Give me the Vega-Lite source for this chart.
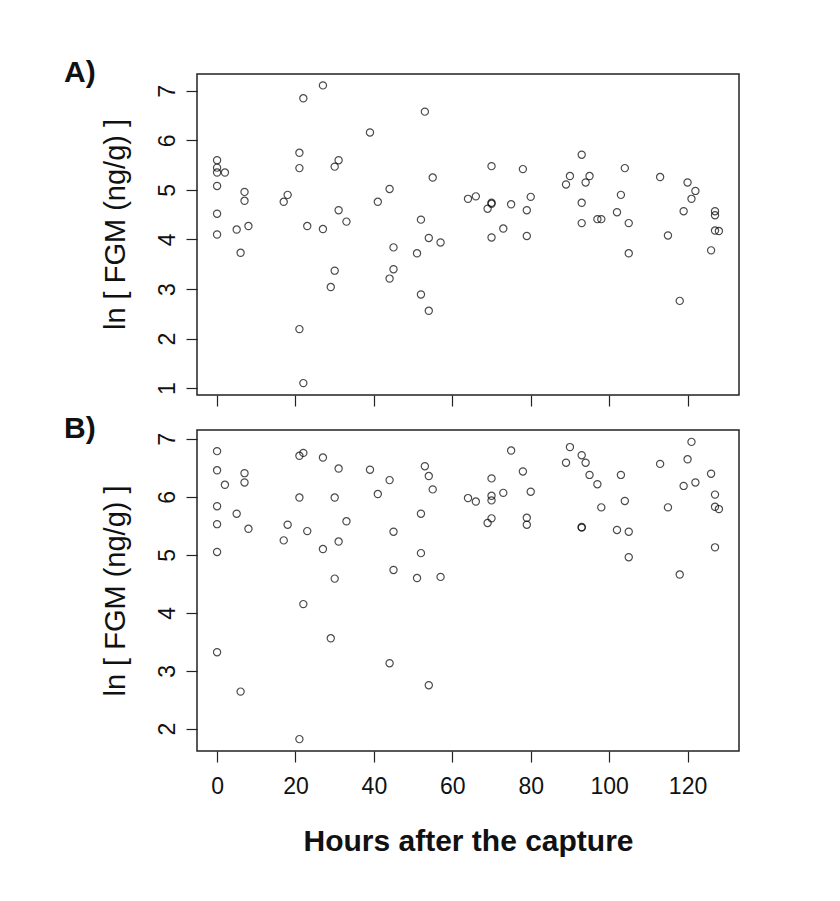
{
  "$schema": "https://vega.github.io/schema/vega-lite/v6.json",
  "background": "white",
  "padding": {"left": 63, "top": 57, "right": 90, "bottom": 40},
  "bounds": "flush",
  "spacing": 35,
  "config": {
    "font": "Liberation Sans",
    "view": {"stroke": "#222222", "strokeWidth": 1.5},
    "axis": {
      "grid": false,
      "domain": false,
      "tickColor": "#222222",
      "tickWidth": 1.2,
      "tickSize": 11,
      "labelFont": "Liberation Sans",
      "labelFontSize": 23,
      "labelColor": "#111111",
      "titleFont": "Liberation Sans",
      "titleFontSize": 29,
      "titleFontWeight": "normal",
      "titleColor": "#111111"
    },
    "title": {"font": "Liberation Sans", "fontSize": 30, "fontWeight": "bold", "anchor": "start", "frame": "group", "color": "#111111"}
  },
  "datasets": {
    "A": [
      {"h": 0, "v": 5.60}, {"h": 0, "v": 5.45}, {"h": 0, "v": 5.35}, {"h": 2, "v": 5.35}, {"h": 0, "v": 5.08},
      {"h": 0, "v": 4.52}, {"h": 0, "v": 4.10}, {"h": 5, "v": 4.20}, {"h": 6, "v": 3.73}, {"h": 7, "v": 4.96},
      {"h": 7, "v": 4.78}, {"h": 8, "v": 4.27}, {"h": 17, "v": 4.76}, {"h": 18, "v": 4.90}, {"h": 21, "v": 5.75},
      {"h": 21, "v": 5.44}, {"h": 21, "v": 2.19}, {"h": 22, "v": 6.85}, {"h": 22, "v": 1.10}, {"h": 23, "v": 4.27},
      {"h": 27, "v": 7.11}, {"h": 27, "v": 4.21}, {"h": 29, "v": 3.04}, {"h": 30, "v": 5.47}, {"h": 30, "v": 3.37},
      {"h": 31, "v": 5.60}, {"h": 31, "v": 4.59}, {"h": 33, "v": 4.36}, {"h": 39, "v": 6.16}, {"h": 41, "v": 4.76},
      {"h": 44, "v": 5.02}, {"h": 44, "v": 3.21}, {"h": 45, "v": 3.84}, {"h": 45, "v": 3.40}, {"h": 51, "v": 3.72},
      {"h": 52, "v": 4.40}, {"h": 52, "v": 2.89}, {"h": 53, "v": 6.58}, {"h": 54, "v": 4.03}, {"h": 54, "v": 2.56},
      {"h": 55, "v": 5.25}, {"h": 57, "v": 3.94}, {"h": 64, "v": 4.82}, {"h": 66, "v": 4.87}, {"h": 69, "v": 4.62},
      {"h": 70, "v": 5.48}, {"h": 70, "v": 4.74}, {"h": 70, "v": 4.72}, {"h": 70, "v": 4.04}, {"h": 73, "v": 4.22},
      {"h": 75, "v": 4.71}, {"h": 78, "v": 5.42}, {"h": 79, "v": 4.59}, {"h": 79, "v": 4.07}, {"h": 80, "v": 4.86},
      {"h": 89, "v": 5.11}, {"h": 90, "v": 5.28}, {"h": 93, "v": 5.71}, {"h": 93, "v": 4.74}, {"h": 93, "v": 4.33},
      {"h": 94, "v": 5.15}, {"h": 95, "v": 5.28}, {"h": 97, "v": 4.41}, {"h": 98, "v": 4.41}, {"h": 102, "v": 4.55},
      {"h": 103, "v": 4.90}, {"h": 104, "v": 5.44}, {"h": 105, "v": 4.33}, {"h": 105, "v": 3.72}, {"h": 113, "v": 5.26},
      {"h": 115, "v": 4.08}, {"h": 118, "v": 2.76}, {"h": 119, "v": 4.57}, {"h": 120, "v": 5.15}, {"h": 121, "v": 4.82},
      {"h": 122, "v": 4.98}, {"h": 126, "v": 3.78}, {"h": 127, "v": 4.57}, {"h": 127, "v": 4.49}, {"h": 127, "v": 4.18},
      {"h": 128, "v": 4.17}
    ],
    "B": [
      {"h": 0, "v": 6.79}, {"h": 0, "v": 6.46}, {"h": 0, "v": 5.84}, {"h": 2, "v": 6.21}, {"h": 0, "v": 5.53},
      {"h": 0, "v": 5.05}, {"h": 0, "v": 3.32}, {"h": 5, "v": 5.71}, {"h": 6, "v": 2.64}, {"h": 7, "v": 6.41},
      {"h": 7, "v": 6.25}, {"h": 8, "v": 5.45}, {"h": 17, "v": 5.25}, {"h": 18, "v": 5.52}, {"h": 21, "v": 6.71},
      {"h": 21, "v": 5.99}, {"h": 21, "v": 1.82}, {"h": 22, "v": 6.76}, {"h": 22, "v": 4.15}, {"h": 23, "v": 5.41},
      {"h": 27, "v": 6.68}, {"h": 27, "v": 5.10}, {"h": 29, "v": 3.56}, {"h": 30, "v": 5.99}, {"h": 30, "v": 4.59},
      {"h": 31, "v": 6.49}, {"h": 31, "v": 5.23}, {"h": 33, "v": 5.58}, {"h": 39, "v": 6.47}, {"h": 41, "v": 6.05},
      {"h": 44, "v": 6.29}, {"h": 44, "v": 3.13}, {"h": 45, "v": 5.40}, {"h": 45, "v": 4.74}, {"h": 51, "v": 4.60},
      {"h": 52, "v": 5.71}, {"h": 52, "v": 5.03}, {"h": 53, "v": 6.53}, {"h": 54, "v": 6.36}, {"h": 54, "v": 2.75},
      {"h": 55, "v": 6.13}, {"h": 57, "v": 4.62}, {"h": 64, "v": 5.98}, {"h": 66, "v": 5.92}, {"h": 69, "v": 5.55},
      {"h": 70, "v": 6.32}, {"h": 70, "v": 6.02}, {"h": 70, "v": 5.94}, {"h": 70, "v": 5.63}, {"h": 73, "v": 6.07},
      {"h": 75, "v": 6.80}, {"h": 78, "v": 6.44}, {"h": 79, "v": 5.64}, {"h": 79, "v": 5.52}, {"h": 80, "v": 6.09},
      {"h": 89, "v": 6.59}, {"h": 90, "v": 6.86}, {"h": 93, "v": 6.72}, {"h": 93, "v": 5.48}, {"h": 93, "v": 5.47},
      {"h": 94, "v": 6.59}, {"h": 95, "v": 6.38}, {"h": 97, "v": 6.22}, {"h": 98, "v": 5.82}, {"h": 102, "v": 5.43},
      {"h": 103, "v": 6.38}, {"h": 104, "v": 5.93}, {"h": 105, "v": 5.40}, {"h": 105, "v": 4.96}, {"h": 113, "v": 6.57},
      {"h": 115, "v": 5.82}, {"h": 118, "v": 4.66}, {"h": 119, "v": 6.19}, {"h": 120, "v": 6.65}, {"h": 121, "v": 6.95},
      {"h": 122, "v": 6.25}, {"h": 126, "v": 6.40}, {"h": 127, "v": 6.04}, {"h": 127, "v": 5.83}, {"h": 127, "v": 5.13},
      {"h": 128, "v": 5.79}
    ]
  },
  "vconcat": [
    {
      "width": 542,
      "height": 321,
      "data": {"name": "A"},
      "title": {"text": "A)", "dx": -133, "baseline": "middle", "offset": -29},
      "mark": {"type": "point", "shape": "circle", "filled": false, "color": "black", "size": 52, "strokeWidth": 1.2},
      "encoding": {
        "x": {
          "field": "h", "type": "quantitative",
          "scale": {"domain": [-5.12, 133.12], "nice": false, "zero": false},
          "axis": {"values": [0, 20, 40, 60, 80, 100, 120], "labels": false, "title": null}
        },
        "y": {
          "field": "v", "type": "quantitative",
          "scale": {"domain": [0.86, 7.34], "nice": false, "zero": false},
          "axis": {"values": [1, 2, 3, 4, 5, 6, 7], "labelAngle": -90, "labelAlign": "center", "labelBaseline": "alphabetic", "labelPadding": 12, "title": "ln [ FGM (ng/g) ]", "titlePadding": 26, "titleY": 150}
        }
      }
    },
    {
      "width": 542,
      "height": 321,
      "data": {"name": "B"},
      "title": {"text": "B)", "dx": -133, "baseline": "middle", "offset": -29},
      "mark": {"type": "point", "shape": "circle", "filled": false, "color": "black", "size": 52, "strokeWidth": 1.2},
      "encoding": {
        "x": {
          "field": "h", "type": "quantitative",
          "scale": {"domain": [-5.12, 133.12], "nice": false, "zero": false},
          "axis": {"values": [0, 20, 40, 60, 80, 100, 120], "labelPadding": 13, "title": "Hours after the capture", "titleFontWeight": "bold", "titleFontSize": 30, "titlePadding": 28}
        },
        "y": {
          "field": "v", "type": "quantitative",
          "scale": {"domain": [1.615, 7.155], "nice": false, "zero": false},
          "axis": {"values": [2, 3, 4, 5, 6, 7], "labelAngle": -90, "labelAlign": "center", "labelBaseline": "alphabetic", "labelPadding": 12, "title": "ln [ FGM (ng/g) ]", "titlePadding": 26}
        }
      }
    }
  ]
}
